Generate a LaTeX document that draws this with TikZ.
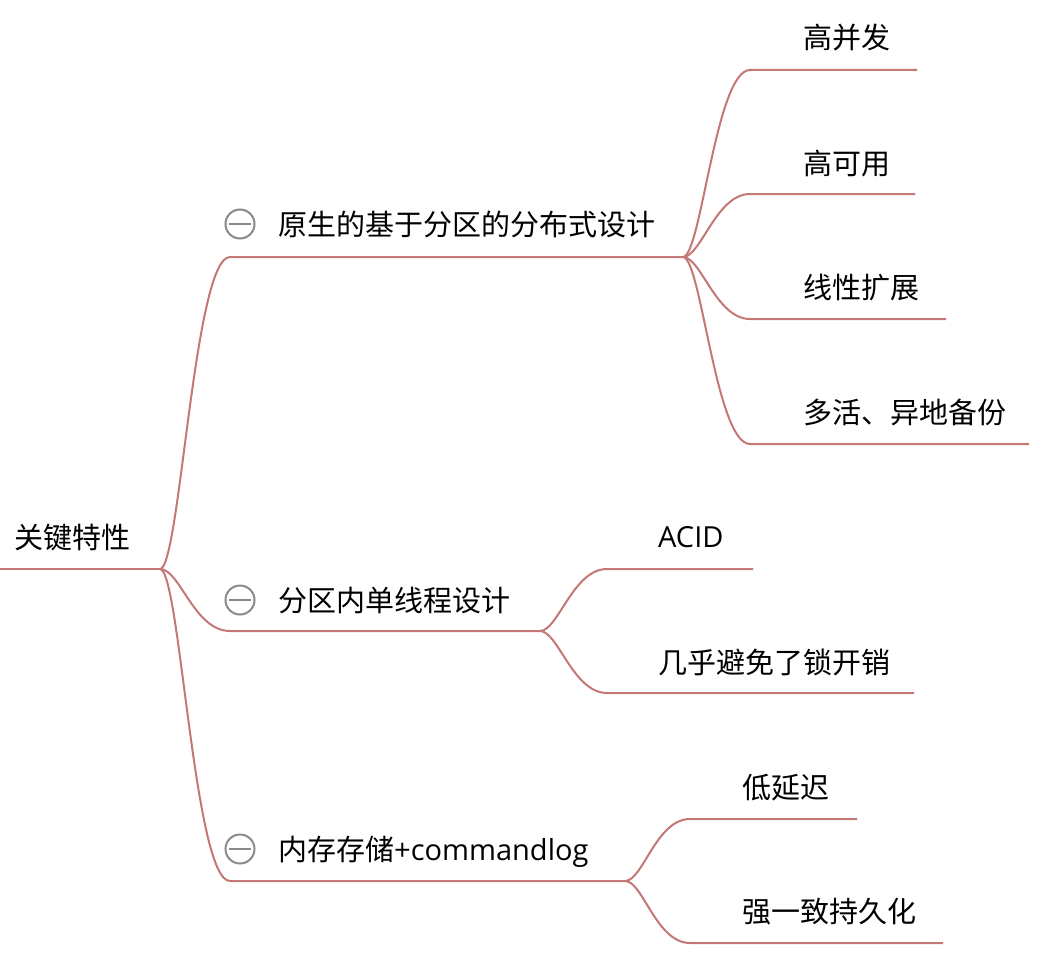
\documentclass[tikz,border=0pt]{standalone}
\usepackage{fontspec}
\setmainfont{Open Sans}
\newfontfamily\cjk{Noto Sans CJK SC}
\definecolor{branch}{HTML}{C47876}
\definecolor{foldgray}{HTML}{8A8A8A}

\begin{document}
\begin{tikzpicture}[x=1pt, y=-1pt, font=\fontsize{29}{32}\selectfont,
	line/.style={draw=branch, line width=2pt},
	topic/.style={anchor=base west, inner sep=0pt},
	fold/.style={circle, draw=foldgray, line width=2pt, minimum size=29pt, inner sep=0pt,
		path picture={\draw[foldgray, line width=2pt] ([xshift=-11pt]path picture bounding box.center) -- ([xshift=11pt]path picture bounding box.center);}}]
	\useasboundingbox (0,0) rectangle (1044,971);
	\coordinate (R0) at (0,569);
	\coordinate (R) at (160,569);
	\coordinate (A0) at (230,257);
	\coordinate (A) at (683,257);
	\coordinate (B0) at (230,631);
	\coordinate (B) at (540,631);
	\coordinate (C0) at (230,881);
	\coordinate (C) at (625,881);
	\coordinate (a1) at (750,70);
	\coordinate (a1e) at (917,70);
	\coordinate (a2) at (750,194);
	\coordinate (a2e) at (915,194);
	\coordinate (a3) at (750,319);
	\coordinate (a3e) at (946,319);
	\coordinate (a4) at (750,444);
	\coordinate (a4e) at (1029,444);
	\coordinate (b1) at (607,569);
	\coordinate (b1e) at (753,569);
	\coordinate (b2) at (607,693);
	\coordinate (b2e) at (914,693);
	\coordinate (c1) at (690,819);
	\coordinate (c1e) at (857,819);
	\coordinate (c2) at (690,943);
	\coordinate (c2e) at (943,943);
	\draw[line] (R0)--(R);
	\draw[line] (R) .. controls +(20,0) and +(-36,0) .. (A0)--(A);
	\draw[line] (R) .. controls +(20,0) and +(-36,0) .. (B0)--(B);
	\draw[line] (R) .. controls +(20,0) and +(-36,0) .. (C0)--(C);
	\draw[line] (A) .. controls +(18,0) and +(-34,0) .. (a1)--(a1e);
	\draw[line] (A) .. controls +(18,0) and +(-34,0) .. (a2)--(a2e);
	\draw[line] (A) .. controls +(18,0) and +(-34,0) .. (a3)--(a3e);
	\draw[line] (A) .. controls +(18,0) and +(-34,0) .. (a4)--(a4e);
	\draw[line] (B) .. controls +(18,0) and +(-34,0) .. (b1)--(b1e);
	\draw[line] (B) .. controls +(18,0) and +(-34,0) .. (b2)--(b2e);
	\draw[line] (C) .. controls +(18,0) and +(-34,0) .. (c1)--(c1e);
	\draw[line] (C) .. controls +(18,0) and +(-34,0) .. (c2)--(c2e);
	\node[topic] (root) at (14,548) {\cjk 关键特性};
	\node[fold] (foldA) at (240,224) {};
	\node[fold] (foldB) at (240,600) {};
	\node[fold] (foldC) at (240,849) {};
	\node[topic] (design) at (278,235) {\cjk 原生的基于分区的分布式设计};
	\node[topic] (thread) at (278,611) {\cjk 分区内单线程设计};
	\node[topic] (store) at (278,860) {{\cjk 内存存储}+commandlog};
	\node[topic] (conc) at (803,49) {\cjk 高并发};
	\node[topic] (avail) at (803,174) {\cjk 高可用};
	\node[topic] (scale) at (803,298) {\cjk 线性扩展};
	\node[topic] (backup) at (803,423) {\cjk 多活、异地备份};
	\node[topic] (acid) at (658,547) {ACID};
	\node[topic] (lock) at (658,673) {\cjk 几乎避免了锁开销};
	\node[topic] (latency) at (742,798) {\cjk 低延迟};
	\node[topic] (durable) at (742,922) {\cjk 强一致持久化};
\end{tikzpicture}
\end{document}
